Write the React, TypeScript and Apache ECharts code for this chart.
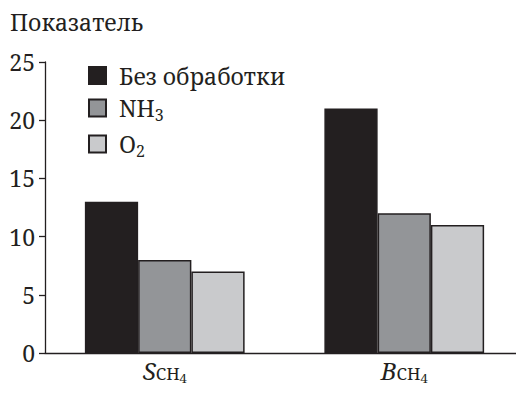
import React, { useEffect, useRef } from "react";
import * as echarts from "echarts";

const categories = ["S", "B"];
const seriesNames = ["Без обработки", "NH3", "O2"];
const valuesNone = [13, 21];
const valuesNH3 = [8, 12];
const valuesO2 = [7, 11];
const yTicks = { min: 0, max: 25, interval: 5 };

const FONT = "Noto Serif";
const INK = "#231f20";
const colors = ["#231f20", "#939598", "#c9cacc"];

export default function App() {
  const ref = useRef<HTMLDivElement>(null);

  useEffect(() => {
    if (!ref.current) return;
    const chart = echarts.init(ref.current, undefined, { renderer: "svg" });
    const dataSets = [valuesNone, valuesNH3, valuesO2];
    chart.setOption({
      animation: false,
      title: {
        text: "Показатель",
        left: 10,
        top: 10,
        padding: 0,
        textStyle: { fontFamily: FONT, fontSize: 23, fontWeight: "normal", color: INK },
      },
      legend: {
        orient: "vertical",
        left: 88,
        top: 64,
        padding: 0,
        itemWidth: 17,
        itemHeight: 17,
        itemGap: 6,
        icon: "rect",
        data: seriesNames,
        formatter: (name: string) => {
          if (name === "NH3") return "{a|NH}{s|3}";
          if (name === "O2") return "{a|O}{s|2}";
          return "{a|" + name + "}";
        },
        textStyle: {
          fontFamily: FONT,
          fontSize: 23,
          color: INK,
          rich: {
            a: { fontFamily: FONT, fontSize: 23, color: INK, lineHeight: 30, padding: [0, 0, 0, 8] },
            s: { fontFamily: FONT, fontSize: 16, color: INK, lineHeight: 30, padding: [14, 0, 0, 0] },
          },
        },
      },
      grid: { left: 45, right: 0, top: 62, bottom: 42 },
      xAxis: {
        type: "category",
        data: categories,
        axisLine: { lineStyle: { color: INK, width: 1.3 } },
        axisTick: { inside: true, length: 8, lineStyle: { color: INK, width: 1.3 } },
        axisLabel: {
          margin: 2,
          formatter: (v: string) => "{i|" + v + "}{s|CH}{t|4}",
          rich: {
            i: { fontFamily: FONT, fontStyle: "italic", fontSize: 24, color: INK, lineHeight: 30 },
            s: { fontFamily: FONT, fontSize: 17, color: INK, lineHeight: 30, padding: [7, 0, 0, 0] },
            t: { fontFamily: FONT, fontSize: 13, color: INK, lineHeight: 30, padding: [15, 0, 0, 0] },
          },
        },
      },
      yAxis: {
        type: "value",
        min: yTicks.min,
        max: yTicks.max,
        interval: yTicks.interval,
        splitLine: { show: false },
        axisLine: { show: true, lineStyle: { color: INK, width: 1.3 } },
        axisTick: { show: true, length: 6, lineStyle: { color: INK, width: 1.3 } },
        axisLabel: { fontFamily: FONT, fontSize: 23, color: INK, margin: 10 },
      },
      series: seriesNames.map((name, i) => ({
        name,
        type: "bar",
        data: dataSets[i],
        barGap: "0%",
        barCategoryGap: "33.3%",
        itemStyle: { color: colors[i], borderColor: INK, borderWidth: 1.5 },
      })),
    });
    return () => chart.dispose();
  }, []);

  return <div ref={ref} style={{ width: 524, height: 395, margin: -8 }} />;
}
